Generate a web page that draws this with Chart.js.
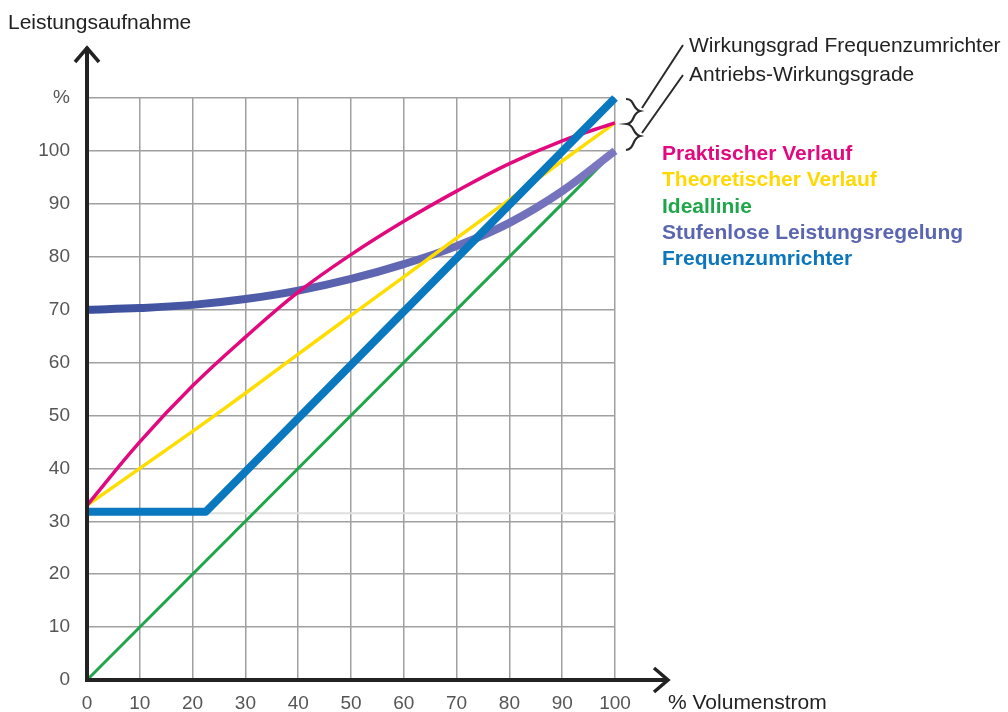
<!DOCTYPE html>
<html lang="de">
<head>
<meta charset="utf-8">
<title>Leistungsaufnahme</title>
<script src="https://cdn.jsdelivr.net/npm/chart.js@4/dist/chart.umd.min.js"></script>
<style>
  html, body { margin: 0; padding: 0; background: #fff; }
  canvas { display: block; }
</style>
</head>
<body>
<canvas id="chart" width="1008" height="712"></canvas>
<script>
const xValues = [0, 10, 20, 30, 40, 50, 60, 70, 80, 90, 100];
const praktisch = [33, 45, 55.6, 64.8, 73.3, 80.4, 86.7, 92.4, 97.6, 101.9, 105.3];
const theoretisch = [33, 40, 47, 54.2, 61.6, 68.9, 76.2, 83.5, 90.8, 98.1, 105.3];
const stufenlos = [70, 70.3, 70.9, 72, 73.6, 75.8, 78.6, 82, 86.4, 92.4, 100];
const idealX = [0, 100];
const idealY = [0, 100];
const frequenzX = [0, 22.5, 100];
const frequenzY = [31.8, 31.8, 110];
const hilfslinieX = [0, 100];
const hilfslinieY = [31.5, 31.5];

const legendLabels = ['Praktischer Verlauf', 'Theoretischer Verlauf', 'Ideallinie', 'Stufenlose Leistungsregelung', 'Frequenzumrichter'];
const legendColors = ['#e2097f', '#ffd800', '#1fa64a', '#5a66b0', '#0b76bd'];
const notes = ['Wirkungsgrad Frequenzumrichter', 'Antriebs-Wirkungsgrade'];

function points(xs, ys) {
  return xs.map((x, i) => ({ x: x, y: ys[i] }));
}

Chart.defaults.font.family = "'Liberation Sans', Arial, sans-serif";

const ctx = document.getElementById('chart').getContext('2d');

// Achsen mit Pfeilen, Klammern und Beschriftungen
const extras = {
  id: 'extras',
  afterDatasetsDraw(chart) {
    const c = chart.ctx;
    const x = chart.scales.x;
    const y = chart.scales.y;
    const x0 = x.getPixelForValue(0);
    const y0 = y.getPixelForValue(0);
    c.save();
    c.strokeStyle = '#222';
    c.lineWidth = 4;
    c.lineCap = 'butt';
    c.beginPath();
    c.moveTo(x0, y0 + 2);
    c.lineTo(x0, 47);
    c.moveTo(x0 - 2, y0);
    c.lineTo(666, y0);
    c.stroke();
    c.lineWidth = 3.5;
    c.lineJoin = 'miter';
    c.beginPath();
    c.moveTo(x0 - 12, 62);
    c.lineTo(x0, 48);
    c.lineTo(x0 + 12, 62);
    c.moveTo(654, y0 - 12);
    c.lineTo(668, y0);
    c.lineTo(654, y0 + 12);
    c.stroke();

    // geschweifte Klammern
    c.lineWidth = 2.2;
    c.strokeStyle = '#2a2a2a';
    c.beginPath();
    c.moveTo(626, 99);
    c.bezierCurveTo(635, 99, 632, 109, 640, 111);
    c.bezierCurveTo(632, 113, 635, 123, 627, 124);
    c.bezierCurveTo(635, 125, 632, 134, 640, 136);
    c.bezierCurveTo(632, 138, 635, 149, 626, 150);
    c.stroke();
    c.lineWidth = 2;
    c.beginPath();
    c.moveTo(642, 108);
    c.lineTo(683, 45);
    c.moveTo(642, 133);
    c.lineTo(683, 75);
    c.stroke();

    c.fillStyle = '#222';
    c.textBaseline = 'middle';
    c.textAlign = 'left';
    c.font = "21px 'Liberation Sans', Arial, sans-serif";
    c.fillText('Leistungsaufnahme', 8, 23);
    c.fillText('% Volumenstrom', 668, 703);
    c.fillText(notes[0], 689, 46);
    c.fillText(notes[1], 689, 75);

    c.font = "bold 21px 'Liberation Sans', Arial, sans-serif";
    legendLabels.forEach((label, i) => {
      c.fillStyle = legendColors[i];
      c.fillText(label, 662, 154 + i * 26.4);
    });
    c.restore();
  }
};

function purpleGradient(context) {
  const area = context.chart.chartArea;
  if (!area) return '#5a64ad';
  const g = context.chart.ctx.createLinearGradient(area.left, 0, area.right, 0);
  g.addColorStop(0, '#3a4f9c');
  g.addColorStop(1, '#7d78c2');
  return g;
}

new Chart(ctx, {
  type: 'line',
  data: {
    datasets: [
      {
        label: 'hilfslinie',
        data: points(hilfslinieX, hilfslinieY),
        borderColor: '#dedede',
        borderWidth: 2,
        order: 9
      },
      {
        label: legendLabels[2],
        data: points(idealX, idealY),
        borderColor: '#1fa64a',
        borderWidth: 3,
        order: 8
      },
      {
        label: legendLabels[3],
        data: points(xValues, stufenlos),
        borderColor: purpleGradient,
        borderWidth: 8,
        tension: 0.4,
        order: 7
      },
      {
        label: legendLabels[1],
        data: points(xValues, theoretisch),
        borderColor: '#ffdd00',
        borderWidth: 3.5,
        tension: 0.3,
        order: 6
      },
      {
        label: legendLabels[0],
        data: points(xValues, praktisch),
        borderColor: '#e2097f',
        borderWidth: 3.5,
        tension: 0.4,
        order: 5
      },
      {
        label: legendLabels[4],
        data: points(frequenzX, frequenzY),
        borderColor: '#0a78be',
        borderWidth: 8,
        order: 1
      }
    ]
  },
  options: {
    responsive: false,
    animation: false,
    clip: false,
    layout: { padding: { top: 98, right: 393, left: 0, bottom: 0 } },
    elements: { point: { radius: 0 }, line: { borderJoinStyle: 'round' } },
    plugins: { legend: { display: false }, tooltip: { enabled: false } },
    scales: {
      x: {
        type: 'linear',
        min: 0,
        max: 100,
        afterFit: (s) => { s.height = 32; },
        border: { display: false },
        grid: { color: '#a0a0a0', lineWidth: 1.5, drawTicks: false },
        ticks: { stepSize: 10, maxRotation: 0, padding: 12, color: '#555', font: { size: 19 } }
      },
      y: {
        min: 0,
        max: 110,
        afterFit: (s) => { s.width = 87; },
        border: { display: false },
        grid: { color: '#a0a0a0', lineWidth: 1.5, drawTicks: false },
        ticks: {
          stepSize: 10,
          padding: 17,
          color: '#555',
          font: { size: 19 },
          callback: (v) => v === 110 ? '%' : v
        }
      }
    }
  },
  plugins: [extras]
});
</script>
</body>
</html>
